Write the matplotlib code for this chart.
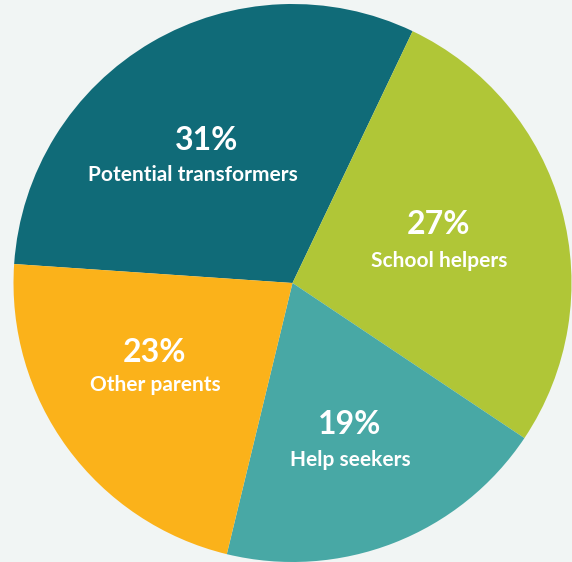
import matplotlib
matplotlib.use("Agg")
import matplotlib.pyplot as plt

categories = ["Potential transformers", "School helpers", "Help seekers", "Other parents"]
# wedge shares as drawn in the picture; printed labels below
values = [31.0, 27.3, 19.4, 22.3]
pct_labels = ["31%", "27%", "19%", "23%"]
colors = ["#106b78", "#b0c637", "#48a8a5", "#fbb21a"]
bg = "#f1f5f4"

W, H = 572, 562
fig = plt.figure(figsize=(W / 100, H / 100), dpi=100, facecolor=bg)
ax = fig.add_axes([0, 0, 1, 1])
ax.set_facecolor(bg)
cx, cy, r = 292.5, H - 283, 279
wedges, _ = ax.pie(values, colors=colors, startangle=176.1, counterclock=False,
                   center=(cx, cy), radius=r, wedgeprops=dict(linewidth=0))
ax.set_xlim(0, W)
ax.set_ylim(0, H)
ax.set_aspect("equal")
ax.axis("off")

# label positions (pixel coords from top-left)
pct_pos = [(207, 140), (438, 225), (350, 424), (155, 352)]
lab_pos = [(193, 175), (439, 261), (350, 460), (155, 385)]
for c, p, (px, py), (lx, ly) in zip(categories, pct_labels, pct_pos, lab_pos):
    ax.text(px, H - py, p, ha="center", va="center", color="white",
            fontsize=23, fontweight="bold", family="Lato")
    ax.text(lx, H - ly, c, ha="center", va="center", color="white",
            fontsize=15, fontweight="bold", family="Lato")

fig.savefig("out.png", dpi=100, facecolor=bg)
